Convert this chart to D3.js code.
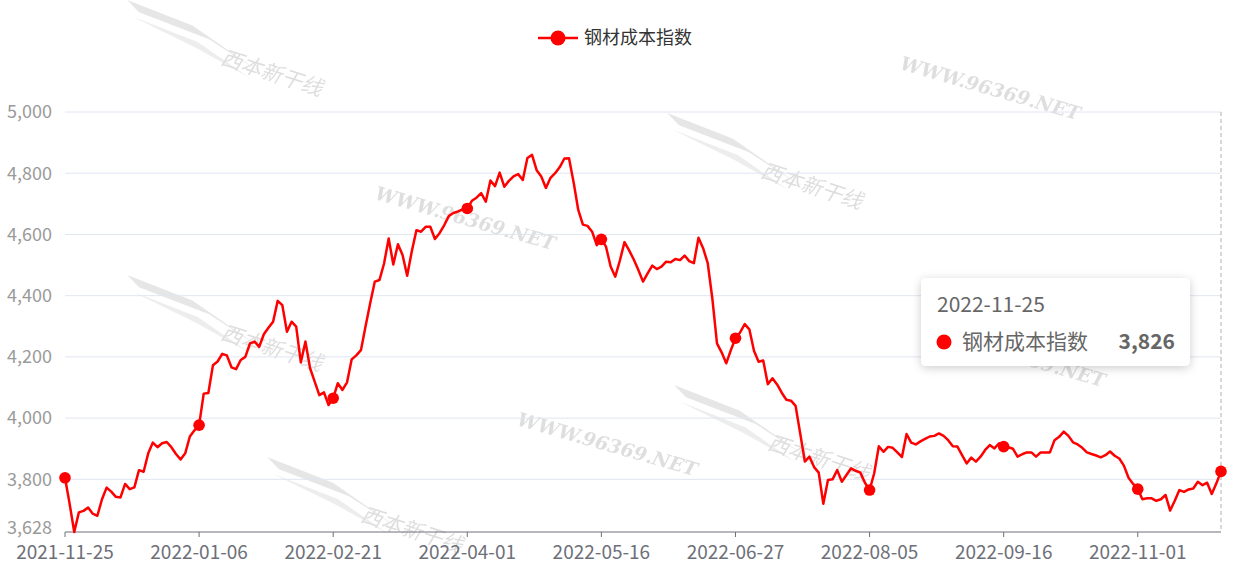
<!DOCTYPE html>
<html><head><meta charset="utf-8">
<script src="https://cdn.jsdelivr.net/npm/d3@7/dist/d3.min.js"></script>
<style>
html,body{margin:0;padding:0;background:#fff;}
svg{display:block;font-family:"Noto Sans CJK SC","Noto Sans",sans-serif;}
</style></head>
<body>
<svg id="chart" width="1233" height="569"></svg>
<script>
const seriesName = "钢材成本指数";
const values = [
3805,3720,3628,3692,3697,3708,3688,3681,3735,3773,
3760,3743,3741,3785,3768,3774,3830,3825,3885,3920,
3905,3918,3922,3905,3883,3865,3885,3940,3960,3977,
4080,4082,4173,4185,4210,4205,4166,4160,4190,4200,
4244,4250,4233,4274,4295,4315,4383,4369,4282,4315,
4299,4182,4250,4163,4119,4075,4084,4043,4065,4114,
4092,4117,4192,4205,4222,4300,4375,4446,4451,4505,
4587,4502,4568,4533,4465,4545,4614,4609,4625,4625,
4585,4604,4630,4660,4670,4675,4682,4685,4710,4720,
4735,4707,4776,4758,4802,4756,4775,4790,4797,4778,
4850,4860,4810,4789,4752,4785,4800,4820,4848,4849,
4770,4680,4632,4628,4609,4565,4584,4560,4495,4462,
4515,4575,4548,4518,4484,4446,4473,4498,4487,4495,
4511,4509,4520,4516,4531,4513,4506,4589,4555,4506,
4390,4244,4215,4179,4222,4261,4280,4307,4290,4220,
4184,4188,4111,4130,4110,4083,4060,4057,4040,3950,
3858,3874,3840,3822,3720,3798,3800,3830,3792,3814,
3836,3828,3822,3789,3765,3820,3908,3890,3906,3903,
3888,3873,3948,3920,3914,3924,3932,3940,3942,3950,
3942,3928,3908,3907,3879,3852,3871,3858,3874,3896,
3912,3901,3918,3907,3905,3900,3874,3882,3888,3888,
3874,3888,3888,3888,3928,3939,3956,3942,3921,3914,
3903,3888,3883,3878,3872,3879,3891,3877,3868,3845,
3805,3785,3768,3735,3738,3738,3730,3735,3749,3698,
3730,3765,3759,3767,3770,3792,3781,3789,3752,3787,
3826
];
const tickLabels = ["2021-11-25","2022-01-06","2022-02-21","2022-04-01","2022-05-16","2022-06-27","2022-08-05","2022-09-16","2022-11-01"];
const labelStep = 29;
const yTicks = [3628,3800,4000,4200,4400,4600,4800,5000];
const yMin = 3628, yMax = 5000;
const tooltipDate = "2022-11-25";

(function(){
const svg = d3.select("#chart");
const red = "#ff0000";
const L = 65, R = 1221, T = 112, B = 532;

const x = d3.scaleLinear().domain([0, values.length - 1]).range([L, R]);
const y = d3.scaleLinear().domain([yMin, yMax]).range([B, T]);

// watermarks
const wm = svg.append("g").attr("pointer-events","none");
const netPos = [[990,90],[465,220],[607,446],[1015,357]];
netPos.forEach(p=>{
  wm.append("text").attr("transform",`translate(${p[0]},${p[1]}) rotate(16)`)
    .attr("text-anchor","middle").attr("dominant-baseline","middle")
    .attr("font-family","'DejaVu Serif','Liberation Serif',serif").attr("font-style","italic").attr("font-weight","bold")
    .attr("font-size",19).attr("fill","#d4d4d4").attr("opacity",0.75).text("WWW.96369.NET");
});
const logoPos = [[225,55],[765,168],[225,330],[772,440],[365,512]];
logoPos.forEach(p=>{
  const g = wm.append("g").attr("transform",`translate(${p[0]},${p[1]}) rotate(18)`).attr("opacity",0.5);
  g.append("path").attr("d","M-110,-22 L-40,-18 L40,6 L-20,-10 L-95,-14 Z").attr("fill","#cfcfcf");
  g.append("path").attr("d","M-100,-8 L-30,-4 L30,14 L-30,2 Z").attr("fill","#dcdcdc");
  g.append("text").attr("x",50).attr("y",10).attr("text-anchor","middle")
    .attr("font-size",21).attr("font-style","italic").attr("fill","#bdbdbd").text("西本新干线");
});

// grid
svg.append("g").selectAll("line").data(yTicks.filter(t=>t!==yMin)).join("line")
  .attr("x1",L).attr("x2",R).attr("y1",d=>y(d)).attr("y2",d=>y(d))
  .attr("stroke","#e0e6f1").attr("stroke-width",1);

// y labels
svg.append("g").selectAll("text").data(yTicks).join("text")
  .attr("x",52).attr("y",d=>y(d) - (d===yMin?4:0)).attr("dy","0.35em").attr("text-anchor","end")
  .attr("font-size",18).attr("fill","#9a9a9a").text(d=>d3.format(",")(d));

// x axis
svg.append("line").attr("x1",L).attr("x2",R).attr("y1",B).attr("y2",B)
  .attr("stroke","#6e7079").attr("stroke-width",1);
const labelIdx = tickLabels.map((_,i)=>i*labelStep);
svg.append("g").selectAll("line").data(labelIdx).join("line")
  .attr("x1",d=>x(d)).attr("x2",d=>x(d)).attr("y1",B).attr("y2",B+5)
  .attr("stroke","#6e7079");
svg.append("g").selectAll("text").data(tickLabels).join("text")
  .attr("x",(d,i)=>x(labelIdx[i])).attr("y",B+27).attr("text-anchor","middle")
  .attr("font-size",19).attr("fill","#6e7079").text(d=>d);

// axis pointer
svg.append("line").attr("x1",x(values.length-1)).attr("x2",x(values.length-1))
  .attr("y1",T).attr("y2",B).attr("stroke","#b0b0b0").attr("stroke-dasharray","4,3");

// line
const line = d3.line().x((d,i)=>x(i)).y(d=>y(d)).curve(d3.curveLinear);
svg.append("path").datum(values).attr("d",line).attr("fill","none")
  .attr("stroke",red).attr("stroke-width",2.5).attr("stroke-linejoin","round");

const dotIdx = labelIdx.concat([values.length-1]);
svg.append("g").selectAll("circle").data(dotIdx).join("circle")
  .attr("cx",d=>x(d)).attr("cy",d=>y(values[d])).attr("r",5.8).attr("fill",red);

// legend
const lg = svg.append("g");
lg.append("line").attr("x1",538).attr("x2",578).attr("y1",38).attr("y2",38).attr("stroke",red).attr("stroke-width",2.5);
lg.append("circle").attr("cx",558).attr("cy",38).attr("r",7.5).attr("fill",red);
lg.append("text").attr("x",584).attr("y",38).attr("dy","0.35em").attr("font-size",18).attr("fill","#333").text(seriesName);

// tooltip
const defs = svg.append("defs");
const f = defs.append("filter").attr("id","sh").attr("x","-20%").attr("y","-30%").attr("width","140%").attr("height","160%");
f.append("feDropShadow").attr("dx",0).attr("dy",2).attr("stdDeviation",5).attr("flood-color","#000").attr("flood-opacity",0.2);
const tt = svg.append("g").attr("transform","translate(921,278)");
tt.append("rect").attr("width",269).attr("height",88).attr("rx",5).attr("fill","#fff").attr("filter","url(#sh)");
tt.append("text").attr("x",16).attr("y",27).attr("dy","0.35em").attr("font-size",21).attr("fill","#666").text(tooltipDate);
tt.append("circle").attr("cx",23).attr("cy",64).attr("r",7.5).attr("fill",red);
tt.append("text").attr("x",41).attr("y",64).attr("dy","0.35em").attr("font-size",21).attr("fill","#666").text(seriesName);
tt.append("text").attr("x",254).attr("y",64).attr("dy","0.35em").attr("text-anchor","end").attr("font-size",21).attr("font-weight","bold").attr("fill","#666").text(d3.format(",")(values[values.length-1]));
})();
</script>
</body></html>
